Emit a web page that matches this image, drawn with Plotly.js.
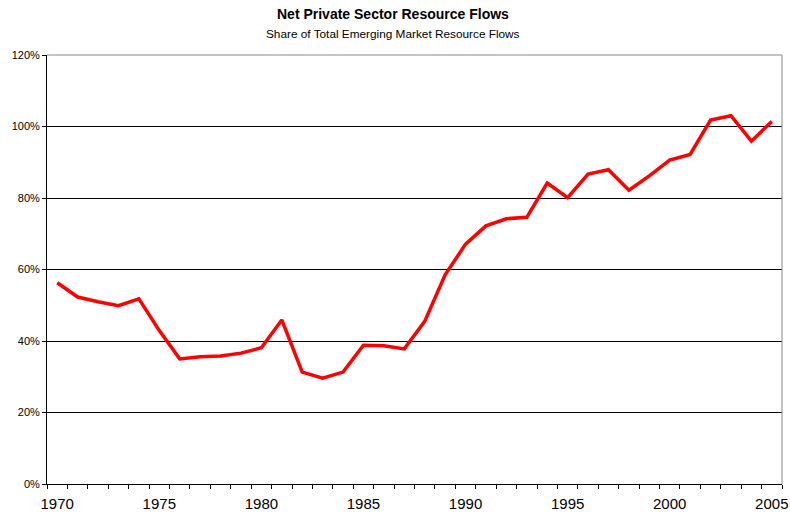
<!DOCTYPE html>
<html>
<head>
<meta charset="utf-8">
<script src="https://cdn.plot.ly/plotly-3.0.1.min.js"></script>
<style>html,body{margin:0;padding:0;background:#fff;}#chart{width:790px;height:515px;}</style>
</head>
<body>
<div id="chart"></div>
<script>
const years = [1970,1971,1972,1973,1974,1975,1976,1977,1978,1979,1980,1981,1982,1983,1984,1985,1986,1987,1988,1989,1990,1991,1992,1993,1994,1995,1996,1997,1998,1999,2000,2001,2002,2003,2004,2005];
const privateShare = [0.563,0.523,0.510,0.499,0.518,0.429,0.350,0.356,0.358,0.366,0.381,0.459,0.313,0.296,0.313,0.388,0.387,0.378,0.455,0.585,0.671,0.722,0.742,0.746,0.842,0.801,0.867,0.879,0.822,0.862,0.906,0.922,1.018,1.030,0.959,1.014];
const yTicks = [0,0.2,0.4,0.6,0.8,1.0,1.2];
const yTickText = ['0%','20%','40%','60%','80%','100%','120%'];
const xTicks = [1970,1975,1980,1985,1990,1995,2000,2005];

const trace = {
  x: years, y: privateShare, type: 'scatter', mode: 'lines',
  line: {color: '#FF0000', width: 3.5},
  hoverinfo: 'skip', showlegend: false
};

const layout = {
  width: 790, height: 515,
  margin: {l: 47, r: 8, t: 55, b: 31},
  paper_bgcolor: '#fff', plot_bgcolor: '#fff',
  font: {family: 'Liberation Sans, Arial, sans-serif', color: '#000'},
  annotations: [
    {text: '<b>Net Private Sector Resource Flows</b>', xref: 'paper', yref: 'paper', x: 0.4707, y: 1, yanchor: 'middle', xanchor: 'center', yshift: 41, showarrow: false, font: {size: 14, color: '#000'}},
    {text: 'Share of Total Emerging Market Resource Flows', xref: 'paper', yref: 'paper', x: 0.4707, y: 1, yanchor: 'middle', xanchor: 'center', yshift: 21, showarrow: false, font: {size: 11.8, color: '#000'}}
  ],
  xaxis: {
    range: [1969.5, 2005.5], tickvals: xTicks, ticktext: xTicks.map(String),
    ticks: '', showgrid: false, zeroline: false,
    showline: true, linecolor: '#000', linewidth: 1,
    tickfont: {size: 15, color: '#000'},
    ticklabelstandoff: 6,
    minor: {tick0: 1969.5, dtick: 1, ticks: 'outside', ticklen: 4, tickcolor: '#000', showgrid: false}
  },
  yaxis: {
    range: [0, 1.2], tickvals: yTicks, ticktext: yTickText,
    ticks: 'outside', ticklen: 4, tickcolor: '#000',
    showgrid: true, gridcolor: '#000', gridwidth: 1, zeroline: false,
    showline: true, linecolor: '#000', linewidth: 1,
    tickfont: {size: 11, color: '#000'}
  },
  shapes: [
    {type: 'line', xref: 'paper', yref: 'paper', x0: 1, x1: 1, y0: 0, y1: 1, line: {color: '#888', width: 1}},
    {type: 'line', xref: 'paper', yref: 'paper', x0: 0, x1: 1, y0: 1, y1: 1, line: {color: '#888', width: 1}}
  ]
};

Plotly.newPlot('chart', [trace], layout, {staticPlot: true, displayModeBar: false});
</script>
</body>
</html>
